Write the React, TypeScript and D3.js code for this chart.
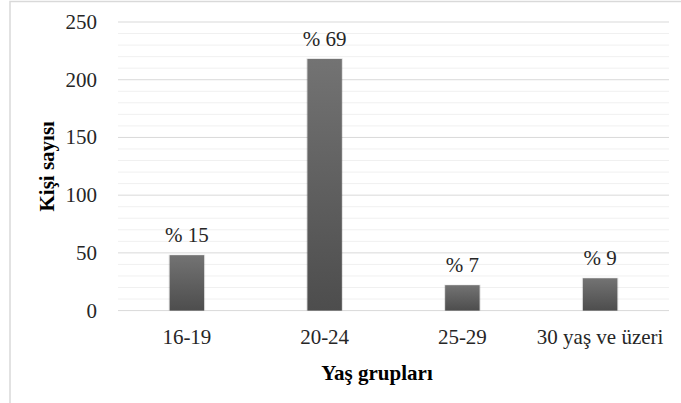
import React from 'react';
import * as d3 from 'd3';

// Chart data
const categories = ['16-19', '20-24', '25-29', '30 yaş ve üzeri'];
const counts = [48, 218, 22, 28];
const percentLabels = ['% 15', '% 69', '% 7', '% 9'];
const yTicks = [0, 50, 100, 150, 200, 250];

const W = 681;
const H = 403;
const plot = { left: 118, right: 669, top: 22, bottom: 310.6 };
const SERIF = 'Liberation Serif';

const App: React.FC = () => {
  const x = d3.scaleBand<string>()
    .domain(categories)
    .range([plot.left, plot.right])
    .paddingInner(0.75)
    .paddingOuter(0.375);

  const y = d3.scaleLinear()
    .domain([0, 250])
    .range([plot.bottom, plot.top]);

  const minor = d3.range(10, 250, 10).filter((v) => v % 50 !== 0);

  return (
    <svg width={W} height={H} style={{ position: 'fixed', left: 0, top: 0, display: 'block' }}>
      <defs>
        <linearGradient id="barGrad" x1={0} y1={0} x2={0} y2={1}>
          <stop offset="0%" stopColor="#737373" />
          <stop offset="100%" stopColor="#4d4d4d" />
        </linearGradient>
      </defs>
      <rect width={W} height={H} fill="#fff" />

      {/* chart frame: only the top and left edges show */}
      <path d={`M10,${H + 2} L10,1.5 L${W + 2},1.5`} fill="none" stroke="#d9d9d9" strokeWidth={1.5} />

      {/* minor gridlines */}
      {minor.map((v) => (
        <line key={`m${v}`} x1={plot.left} x2={plot.right} y1={y(v)} y2={y(v)} stroke="#f0f0f0" strokeWidth={1} />
      ))}

      {/* major gridlines */}
      {yTicks.map((v) => (
        <line key={`g${v}`} x1={plot.left} x2={plot.right} y1={y(v)} y2={y(v)} stroke="#d9d9d9" strokeWidth={1} />
      ))}

      {/* bars with a soft edge */}
      {counts.map((d, i) => {
        const bx = x(categories[i]) as number;
        return (
          <g key={categories[i]}>
            <rect x={bx - 1} y={y(d) - 0.5} width={x.bandwidth() + 2} height={y(0) - y(d) + 0.5} fill="#000" opacity={0.12} />
            <rect x={bx} y={y(d)} width={x.bandwidth()} height={y(0) - y(d)} fill="url(#barGrad)" />
          </g>
        );
      })}

      <g fontFamily={SERIF} fontSize={21} fill="#262626">
        {yTicks.map((v) => (
          <text key={`t${v}`} x={97} y={y(v) + 7} textAnchor="end">
            {v}
          </text>
        ))}
        {counts.map((d, i) => (
          <text key={`p${i}`} x={(x(categories[i]) as number) + x.bandwidth() / 2} y={y(d) - 13} textAnchor="middle">
            {percentLabels[i]}
          </text>
        ))}
        {categories.map((c) => (
          <text key={`c${c}`} x={(x(c) as number) + x.bandwidth() / 2} y={344} textAnchor="middle">
            {c}
          </text>
        ))}
        <text x={377} y={380} textAnchor="middle" fill="#000" fontWeight="bold">
          Yaş grupları
        </text>
        <text
          transform={`translate(54, ${(plot.top + plot.bottom) / 2}) rotate(-90)`}
          textAnchor="middle"
          fill="#000"
          fontWeight="bold"
        >
          Kişi sayısı
        </text>
      </g>
    </svg>
  );
};

export default App;
